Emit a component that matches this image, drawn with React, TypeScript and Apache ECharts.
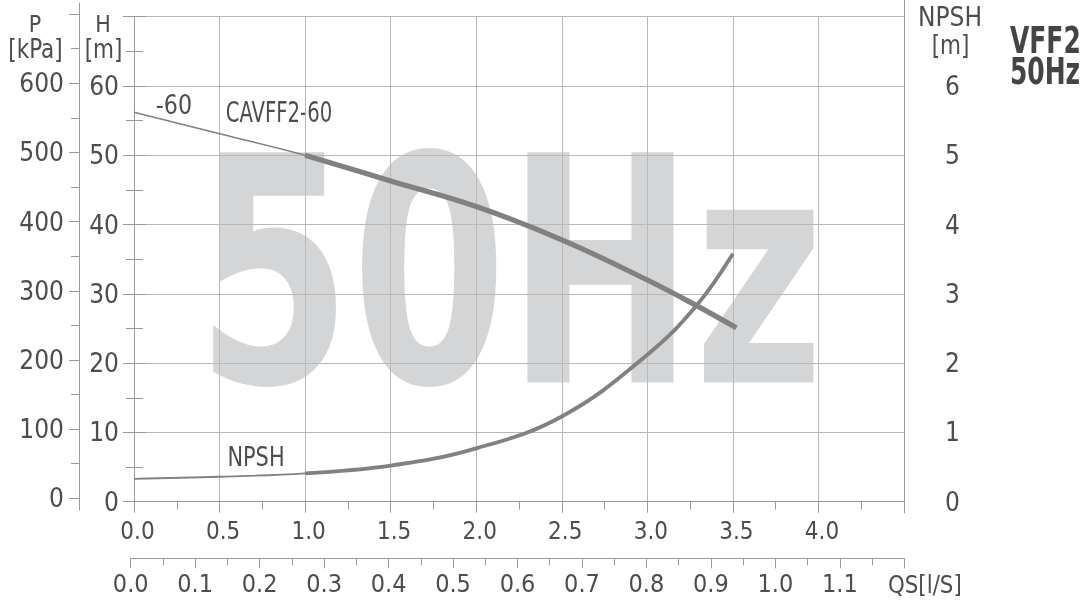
import React, { useEffect, useRef } from 'react';
import * as echarts from 'echarts';

const FONT = '"DejaVu Sans Condensed", "DejaVu Sans", sans-serif';
const TXT = '#4d4d4d';
const AXIS = '#9a9a9a';
const GRID = '#b9b9b9';
const CURVE = '#818181';

// Flow (m3/h) vs head H [m] for CAVFF2-60
const headQ = [0, 0.5, 1.0, 1.5, 2.0, 2.5, 3.0, 3.25, 3.52];
const headH = [56.2, 53.1, 50.0, 46.3, 42.6, 37.8, 32.0, 28.8, 25.1];
// Flow vs NPSH [m]
const npshQ = [0, 0.5, 1.0, 1.5, 2.0, 2.5, 3.0, 3.29, 3.5];
const npshM = [0.33, 0.36, 0.41, 0.52, 0.77, 1.23, 2.12, 2.84, 3.58];
// thick (operating) range starts at this flow
const operatingFrom = 1.0;

const pair = (xs: number[], ys: number[]) => xs.map((x, i) => [x, ys[i]]);
const from = (xs: number[], ys: number[], q: number) => pair(xs, ys).filter((p) => p[0] >= q - 1e-9);

const txt = (
  text: string, x: number, y: number, size: number, sx = 1,
  align: string = 'center', weight: string = 'normal', fill: string = TXT,
) => ({
  type: 'text', x, y, scaleX: sx,
  style: { text, fontFamily: FONT, fontSize: size, fontWeight: weight, fill, align, verticalAlign: 'middle' },
});

export default function App() {
  const ref = useRef<HTMLDivElement>(null);
  useEffect(() => {
    if (!ref.current) return;
    const chart = echarts.init(ref.current, null, { renderer: 'svg' });
    const lbl = (size: number) => ({ fontFamily: FONT, fontSize: size, color: TXT });
    const hiddenX = (gi: number) => ({ type: 'value', gridIndex: gi, show: false, min: 0, max: 1 });
    chart.setOption({
      animation: false,
      grid: [
        { left: 134, top: 16.7, width: 770, height: 485, containLabel: false, outerBoundsMode: 'none' },
        { left: 79, top: 14.1, width: 10, height: 484.2, containLabel: false, outerBoundsMode: 'none' },
        { left: 130.7, top: 557.3, width: 773.6, height: 1, containLabel: false, outerBoundsMode: 'none' },
        { left: 79, top: 3, width: 10, height: 507, containLabel: false, outerBoundsMode: 'none' },
        { left: 904, top: 0, width: 10, height: 513, containLabel: false, outerBoundsMode: 'none' },
      ],
      xAxis: [
        {
          type: 'value', gridIndex: 0, min: 0, max: 4.5, interval: 0.5, position: 'bottom',
          axisLine: { show: true, onZero: false, lineStyle: { color: AXIS, width: 1 } },
          axisTick: { show: true, length: 11, lineStyle: { color: AXIS } },
          minorTick: { show: true, splitNumber: 2, length: 8, lineStyle: { color: AXIS } },
          splitLine: { show: true, lineStyle: { color: GRID, width: 1 } },
          axisLabel: {
            ...lbl(24), margin: 17, padding: [0, 0, 0, 7], showMaxLabel: true,
            formatter: (v: number) => (v >= 4.49 ? '' : (Math.round(v * 10) / 10).toFixed(1)),
          },
        },
        hiddenX(1),
        {
          type: 'value', gridIndex: 2, min: 0, max: 1.2, interval: 0.1, position: 'bottom',
          axisLine: { show: true, onZero: false, lineStyle: { color: AXIS, width: 1 } },
          axisTick: { show: true, length: 10, lineStyle: { color: AXIS } },
          minorTick: { show: true, splitNumber: 2, length: 7, lineStyle: { color: AXIS } },
          splitLine: { show: false },
          axisLabel: {
            ...lbl(25), margin: 13,
            formatter: (v: number) => (v >= 1.19 ? '' : (Math.round(v * 10) / 10).toFixed(1)),
          },
        },
        hiddenX(3),
        hiddenX(4),
      ],
      yAxis: [
        {
          type: 'value', gridIndex: 0, min: 0, max: 70, interval: 10, position: 'left',
          axisLine: { show: true, onZero: false, lineStyle: { color: AXIS, width: 1 } },
          axisTick: { show: true, length: 11, lineStyle: { color: AXIS } },
          minorTick: { show: true, splitNumber: 2, length: 8, lineStyle: { color: AXIS } },
          splitLine: { show: true, lineStyle: { color: GRID, width: 1 } },
          axisLabel: { ...lbl(26), margin: 15, formatter: (v: number) => (v >= 70 ? '' : String(v)) },
        },
        {
          type: 'value', gridIndex: 0, min: 0, max: 7, interval: 1, position: 'right',
          axisLine: { show: false },
          axisTick: { show: true, length: 12, lineStyle: { color: AXIS } },
          minorTick: { show: true, splitNumber: 2, length: 9, lineStyle: { color: AXIS } },
          splitLine: { show: false },
          axisLabel: { ...lbl(26), margin: 41, formatter: (v: number) => (v >= 7 ? '' : String(v)) },
        },
        {
          type: 'value', gridIndex: 1, min: 0, max: 700, interval: 100, position: 'left',
          axisLine: { show: false },
          axisTick: { show: true, length: 10, lineStyle: { color: AXIS } },
          minorTick: { show: true, splitNumber: 2, length: 8, lineStyle: { color: AXIS } },
          splitLine: { show: false },
          axisLabel: { ...lbl(26), margin: 15, formatter: (v: number) => (v >= 700 ? '' : String(v)) },
        },
        {
          type: 'value', gridIndex: 3, min: 0, max: 1, position: 'left',
          axisLine: { show: true, onZero: false, lineStyle: { color: AXIS, width: 1 } },
          axisTick: { show: false }, axisLabel: { show: false }, splitLine: { show: false },
        },
        {
          type: 'value', gridIndex: 4, min: 0, max: 1, position: 'left',
          axisLine: { show: true, onZero: false, lineStyle: { color: AXIS, width: 1 } },
          axisTick: { show: false }, axisLabel: { show: false }, splitLine: { show: false },
        },
        { type: 'value', gridIndex: 2, show: false, min: 0, max: 1 },
      ],
      series: [
        {
          type: 'line', xAxisIndex: 0, yAxisIndex: 0, data: pair(headQ, headH), smooth: 0.4,
          showSymbol: false, lineStyle: { color: CURVE, width: 1.6 }, z: 3,
        },
        {
          type: 'line', xAxisIndex: 0, yAxisIndex: 0, data: from(headQ, headH, operatingFrom), smooth: 0.4,
          showSymbol: false, lineStyle: { color: CURVE, width: 5.2 }, z: 4,
        },
        {
          type: 'line', xAxisIndex: 0, yAxisIndex: 1, data: pair(npshQ, npshM), smooth: 0.4,
          showSymbol: false, lineStyle: { color: CURVE, width: 1.8 }, z: 3,
        },
        {
          type: 'line', xAxisIndex: 0, yAxisIndex: 1, data: from(npshQ, npshM, operatingFrom), smooth: 0.4,
          showSymbol: false, lineStyle: { color: CURVE, width: 3.8 }, z: 4,
        },
      ],
      graphic: {
        elements: [
          {
            type: 'text', x: 196, y: 273, z: -100, silent: true, scaleX: 0.786,
            style: { text: '50Hz', fontFamily: FONT, fontSize: 316, fontWeight: 'bold', fill: '#d4d5d7', align: 'left', verticalAlign: 'middle' },
          },
          txt('P', 35, 24, 23),
          txt('[kPa]', 35.5, 49, 26, 0.92),
          txt('H', 103, 24, 23),
          txt('[m]', 103.5, 49, 26, 0.92),
          txt('NPSH', 950, 17, 26),
          txt('[m]', 950.5, 45, 26, 0.92),
          txt('VFF2', 1010, 41, 37, 0.75, 'left', 'bold', '#444444'),
          txt('50Hz', 1010, 72, 37, 0.75, 'left', 'bold', '#444444'),
          txt('-60', 174, 105, 26, 0.95),
          txt('CAVFF2-60', 279, 113, 28, 0.78),
          txt('NPSH', 256, 457, 27, 0.86),
          txt('QS[l/S]', 888, 584, 25, 0.95, 'left'),
        ],
      },
    });
    return () => chart.dispose();
  }, []);
  return <div ref={ref} style={{ position: 'fixed', left: 0, top: 0, width: '1092px', height: '601px' }} />;
}
